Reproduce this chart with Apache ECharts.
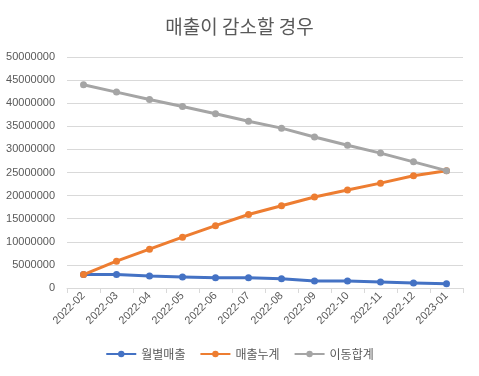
<!DOCTYPE html>
<html>
<head>
<meta charset="utf-8">
<script src="https://cdn.jsdelivr.net/npm/echarts@6/dist/echarts.min.js"></script>
<style>
  html, body { margin: 0; padding: 0; background: #fff; }
  #main { width: 479px; height: 376px; }
</style>
</head>
<body>
<div id="main"></div>
<script>
const months = ['2022-02', '2022-03', '2022-04', '2022-05', '2022-06', '2022-07',
    '2022-08', '2022-09', '2022-10', '2022-11', '2022-12', '2023-01']

// values
const monthlySales = [2900000, 2900000, 2600000, 2400000, 2200000, 2200000,
    2000000, 1500000, 1500000, 1300000, 1100000, 900000]
const salesTotal = [2900000, 5800000, 8400000, 11000000, 13500000, 15900000,
    17800000, 19700000, 21200000, 22700000, 24300000, 25400000]
const movingTotal = [44000000, 42400000, 40800000, 39300000, 37700000, 36100000,
    34600000, 32700000, 30900000, 29200000, 27300000, 25400000]

const seriesNames = ['월별매출', '매출누계', '이동합계']
const colors = ['#4472C4', '#ED7D31', '#A5A5A5']

const textColor = '#595959'
const gridColor = '#d9d9d9'
const font = '"Liberation Sans", "Noto Sans CJK KR", sans-serif'

window.addEventListener('load', () => {
    const chart = echarts.init(document.getElementById('main'))

    // later series drawn on top, like the original
    const series = [monthlySales, salesTotal, movingTotal].map((data, i) => ({
        name: seriesNames[i],
        type: 'line',
        data,
        symbol: 'circle',
        symbolSize: 7,
        itemStyle: { color: colors[i] },
        lineStyle: { width: 3, color: colors[i] },
        z: 2 + i
    }))

    chart.setOption({
        animation: false,
        title: {
            text: '매출이 감소할 경우',
            left: 'center',
            top: 12,
            textStyle: { fontSize: 19, fontWeight: 'normal', color: textColor, fontFamily: '"Noto Sans CJK KR", sans-serif' }
        },
        legend: {
            data: seriesNames,
            bottom: 11,
            itemWidth: 30,
            itemHeight: 8,
            itemGap: 14,
            textStyle: { fontSize: 12, color: textColor, fontFamily: '"Noto Sans CJK KR", sans-serif' }
        },
        grid: { left: 67, right: 16, top: 57, bottom: 88 },
        xAxis: {
            type: 'category',
            data: months,
            boundaryGap: true,
            axisLine: { lineStyle: { color: gridColor } },
            axisTick: { show: true, length: 5, lineStyle: { color: gridColor } },
            axisLabel: { rotate: 45, fontSize: 11, color: textColor, fontFamily: font, margin: 6 }
        },
        yAxis: {
            type: 'value',
            min: 0,
            max: 50000000,
            interval: 5000000,
            axisLine: { show: false },
            axisTick: { show: false },
            axisLabel: { fontSize: 11, color: textColor, fontFamily: font, margin: 12, formatter: v => String(v) },
            splitLine: { lineStyle: { color: gridColor } }
        },
        series
    })
})
</script>
</body>
</html>
